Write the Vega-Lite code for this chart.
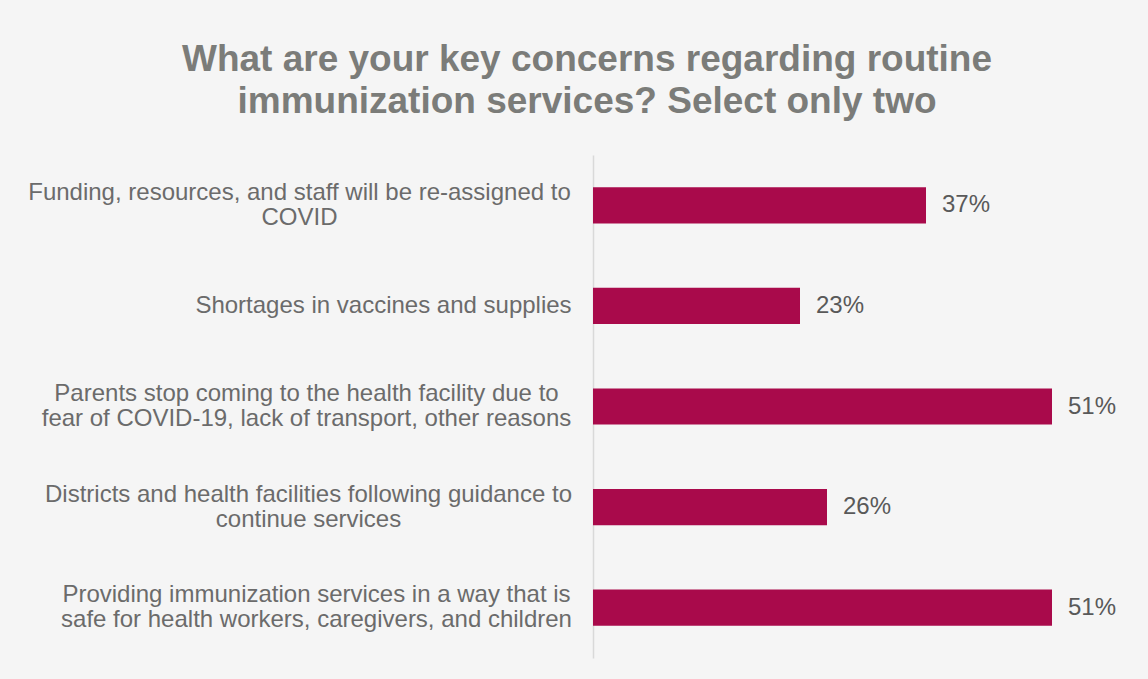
{
  "$schema": "https://vega.github.io/schema/vega-lite/v6.json",
  "width": 540,
  "height": 503,
  "autosize": {"type": "none"},
  "padding": {"left": 593, "top": 155, "right": 15, "bottom": 21},
  "background": "#f5f5f5",
  "title": {
    "text": ["What are your key concerns regarding routine", "immunization services? Select only two"],
    "font": "Liberation Sans",
    "fontSize": 37,
    "fontWeight": "bold",
    "color": "#7b7c79",
    "anchor": "middle",
    "frame": "group",
    "dx": -276,
    "offset": 34,
    "lineHeight": 42
  },
  "data": {
    "values": [
      {"key": "a", "pct": 0.37},
      {"key": "b", "pct": 0.23},
      {"key": "c", "pct": 0.51},
      {"key": "d", "pct": 0.26},
      {"key": "e", "pct": 0.51}
    ]
  },
  "encoding": {
    "y": {
      "field": "key",
      "type": "nominal",
      "sort": null,
      "scale": {"paddingInner": 0.64, "paddingOuter": 0.32},
      "axis": {
        "title": null,
        "ticks": false,
        "domainColor": "#d9d9d9",
        "domainWidth": 1.5,
        "labelExpr": "datum.value == 'a' ? ['Funding, resources, and staff will be re-assigned to', 'COVID'] : datum.value == 'b' ? 'Shortages in vaccines and supplies' : datum.value == 'c' ? ['Parents stop coming to the health facility due to', 'fear of COVID-19, lack of transport, other reasons'] : datum.value == 'd' ? ['Districts and health facilities following guidance to', 'continue services'] : ['Providing immunization services in a way that is', 'safe for health workers, caregivers, and children']",
        "labelFont": "Liberation Sans",
        "labelFontSize": 24,
        "labelColor": "#6b6b6b",
        "labelAlign": "center",
        "labelPadding": {
          "condition": [
            {"test": "datum.value == 'a'", "value": 294},
            {"test": "datum.value == 'b'", "value": 210},
            {"test": "datum.value == 'c'", "value": 287},
            {"test": "datum.value == 'd'", "value": 285}
          ],
          "value": 277
        },
        "labelOffset": {
          "condition": {"test": "datum.value == 'b'", "value": 0},
          "value": -12.5
        },
        "labelLineHeight": 25,
        "labelLimit": 700
      }
    },
    "x": {
      "field": "pct",
      "type": "quantitative",
      "scale": {"domain": [0, 0.6]},
      "axis": null
    }
  },
  "layer": [
    {"mark": {"type": "bar", "color": "#a90a4b"}},
    {
      "mark": {"type": "text", "align": "left", "dx": 16, "font": "Liberation Sans", "fontSize": 24, "color": "#595959"},
      "encoding": {"text": {"field": "pct", "type": "quantitative", "format": ".0%"}}
    }
  ],
  "config": {"view": {"stroke": null}}
}
